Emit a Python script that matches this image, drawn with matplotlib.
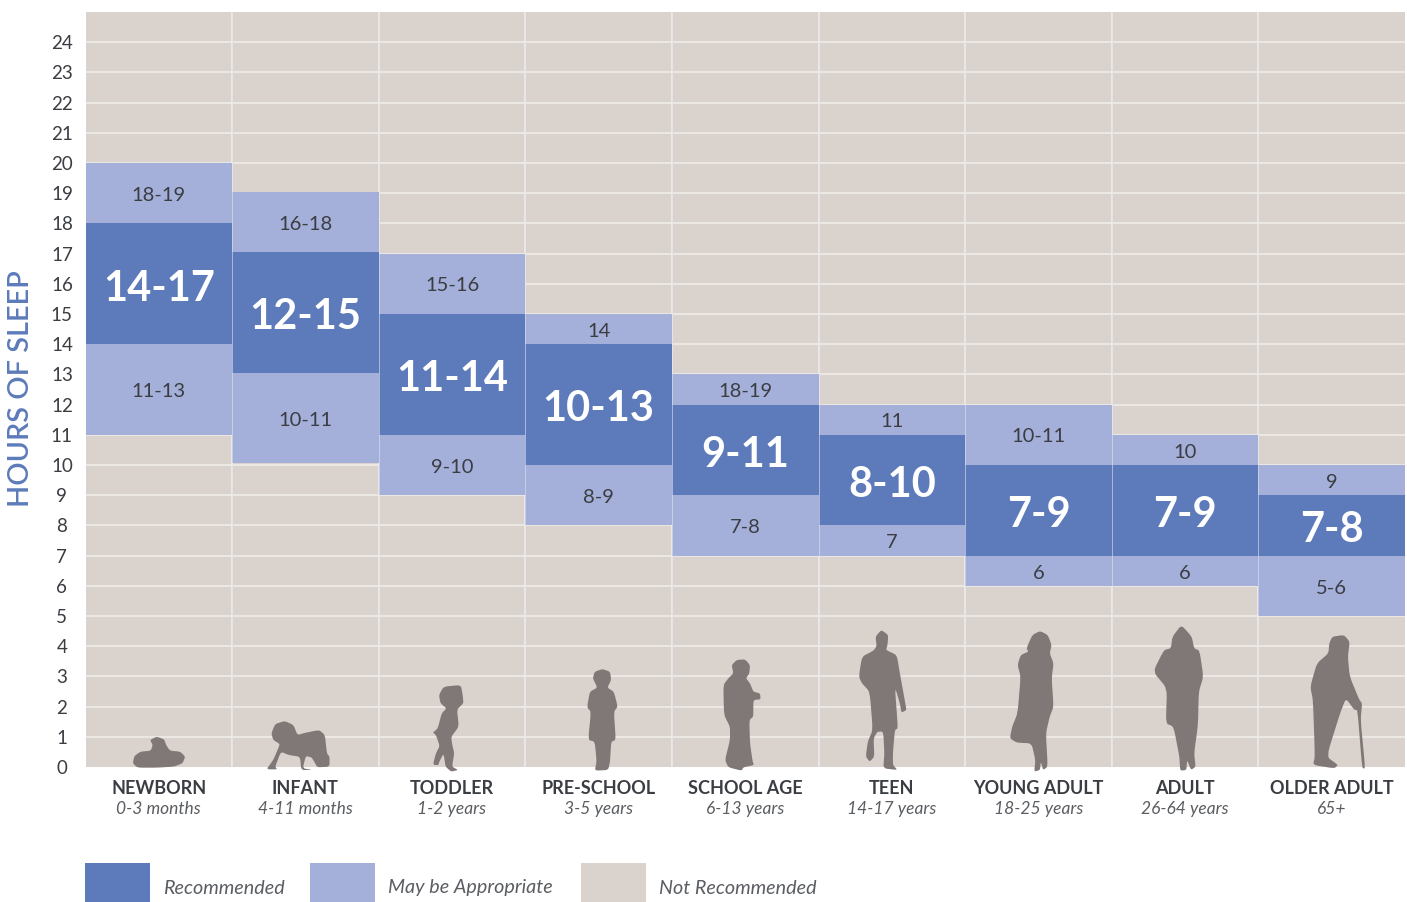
import matplotlib
matplotlib.use('Agg')
import matplotlib.pyplot as plt
import numpy as np
from matplotlib.patches import Rectangle, Polygon

plt.rcParams['font.family'] = ['Lato', 'DejaVu Sans']

# Dane
groups = ['NEWBORN', 'INFANT', 'TODDLER', 'PRE-SCHOOL', 'SCHOOL AGE', 'TEEN',
          'YOUNG ADULT', 'ADULT', 'OLDER ADULT']
ages = ['0-3 months', '4-11 months', '1-2 years', '3-5 years', '6-13 years',
        '14-17 years', '18-25 years', '26-64 years', '65+']
maybe_low = [11, 10.05, 9, 8, 7, 7, 6, 6, 5]
rec_low = [14, 13.05, 11, 10, 9, 8, 7, 7, 7]
rec_high = [18, 17.05, 15, 14, 12, 11, 10, 10, 9]
maybe_high = [20, 19.05, 17, 15, 13, 12, 12, 11, 10]
rec_labels = ['14-17', '12-15', '11-14', '10-13', '9-11', '8-10', '7-9', '7-9', '7-8']
upper_labels = ['18-19', '16-18', '15-16', '14', '18-19', '11', '10-11', '10', '9']
lower_labels = ['11-13', '10-11', '9-10', '8-9', '7-8', '7', '6', '6', '5-6']
hours = list(range(25))

DARK = '#5d7aba'
LIGHT = '#a5b0da'
BACK = '#d9d2cd'
TEXT = '#3a3d42'
SOFT = '#5a5d61'
FIG = '#807876'
W, H = 1407, 902

fig = plt.figure(figsize=(W / 100, H / 100), dpi=100)
ax = fig.add_axes([85.5 / W, 135 / H, 1319.5 / W, 755 / H])
ax.set_facecolor(BACK)
ax.set_xlim(0, 9)
ax.set_ylim(0, 25)
for s in ax.spines.values():
    s.set_visible(False)

ax.set_yticks(hours)
ax.set_yticklabels(hours, fontsize=13.5, color=TEXT, ha='center')
ax.set_xticks([])
ax.tick_params(axis='y', length=0, pad=17)
for h in hours[1:]:
    ax.axhline(h, color='#f1eeeb', lw=1.1, zorder=1)
for i in range(1, 9):
    ax.axvline(i, color='#f1eeeb', lw=1.1, zorder=1)

tr = ax.get_xaxis_transform()
for i in range(9):
    c = i + 0.5
    ax.bar(c, rec_high[i] - rec_low[i], 1, bottom=rec_low[i], color=DARK, zorder=2)
    ax.bar(c, maybe_high[i] - rec_high[i], 1, bottom=rec_high[i], color=LIGHT, zorder=2)
    ax.bar(c, rec_low[i] - maybe_low[i], 1, bottom=maybe_low[i], color=LIGHT, zorder=2)
    ax.text(c, (rec_low[i] + rec_high[i]) / 2 - 0.16, rec_labels[i], color='white',
            fontsize=30, fontweight='bold', ha='center', va='center', zorder=3)
    ax.text(c, (rec_high[i] + maybe_high[i]) / 2 - 0.07, upper_labels[i], color=TEXT,
            fontsize=14.5, ha='center', va='center', zorder=3)
    ax.text(c, (maybe_low[i] + rec_low[i]) / 2 - 0.08, lower_labels[i], color=TEXT,
            fontsize=14.5, ha='center', va='center', zorder=3)
    ax.text(c, -21.5 / 755, groups[i], transform=tr, color=TEXT, fontsize=13,
            fontweight='bold', ha='center', va='center')
    ax.text(c, -42 / 755, ages[i], transform=tr, color=SOFT, fontsize=12.5,
            style='italic', ha='center', va='center')
# cienka przerwa miedzy kolumnami
for i in range(1, 9):
    ax.axvline(i, color='#dfe3f0', lw=0.7, alpha=0.6, zorder=2.5)

fig.text(21 / W, 1 - 389 / H, 'HOURS OF SLEEP', color=DARK, fontsize=20.8, rotation=90,
         fontweight='semibold', ha='center', va='center')

# Legenda
for x0, col, name, tx in [(85, DARK, 'Recommended', 163), (310, LIGHT, 'May be Appropriate', 388),
                          (581, BACK, 'Not Recommended', 659)]:
    fig.add_artist(Rectangle((x0 / W, 0), 65 / W, 39 / H, transform=fig.transFigure,
                             color=col, lw=0))
    fig.text(tx / W, 1 - 888 / H, name, color=SOFT, fontsize=14.2, style='italic',
             ha='left', va='center')

# Sylwetki - obrys z powiekszonych wycinkow
left_crop = [
    [(138, 430), (142, 408), (158, 395), (185, 392), (190, 375), (183, 360), (200, 350), (220, 358),
     (225, 375), (235, 392), (262, 395), (275, 410), (268, 430), (245, 440), (200, 443), (150, 443)],
    [(500, 340), (510, 312), (535, 303), (558, 315), (568, 345), (590, 338), (625, 330), (640, 345),
     (645, 400), (652, 410), (652, 440), (620, 442), (612, 425), (605, 412), (590, 408), (582, 445),
     (608, 450), (578, 450), (575, 410), (545, 405), (525, 395), (510, 440), (515, 448), (487, 448),
     (505, 420), (518, 385), (522, 372), (505, 360)],
    [(938, 225), (950, 200), (995, 195), (1000, 225), (1002, 250), (985, 268), (990, 320), (970, 350),
     (972, 370), (978, 400), (972, 440), (988, 450), (970, 455), (955, 440), (950, 400), (935, 435),
     (945, 435), (922, 435), (930, 400), (940, 378), (930, 345), (922, 338), (935, 325), (945, 280),
     (958, 265), (942, 250)],
    [(1340, 175), (1345, 155), (1365, 147), (1385, 155), (1388, 180), (1378, 203), (1395, 215),
     (1405, 260), (1395, 275), (1400, 360), (1388, 365), (1385, 425), (1380, 450), (1345, 452),
     (1350, 425), (1345, 365), (1328, 360), (1335, 275), (1325, 262), (1332, 215), (1352, 203)],
]
school_crop = [(95, 45), (110, 30), (135, 28), (150, 45), (148, 70), (138, 85), (150, 100), (160, 125),
               (180, 130), (182, 148), (160, 150), (160, 200), (148, 210), (150, 280), (158, 335),
               (162, 345), (130, 352), (125, 362), (85, 352), (75, 330), (90, 270), (90, 230),
               (72, 195), (70, 105), (85, 85), (100, 70)]
right_crop = [
    [(195, 50), (210, 30), (228, 45), (226, 75), (222, 90), (250, 105), (258, 160), (272, 250),
     (275, 270), (262, 278), (258, 250), (245, 200), (253, 325), (245, 330), (240, 400), (240, 435),
     (252, 450), (215, 445), (218, 400), (215, 335), (200, 335), (190, 355), (192, 410), (180, 425),
     (170, 410), (175, 365), (188, 330), (180, 215), (160, 190), (152, 170), (160, 110), (190, 92),
     (198, 78)],
    [(585, 85), (600, 45), (620, 33), (640, 45), (650, 75), (645, 100), (655, 130), (650, 175),
     (655, 260), (645, 290), (635, 340), (640, 440), (628, 450), (622, 425), (620, 450), (605, 455),
     (608, 420), (598, 370), (560, 368), (542, 355), (548, 320), (562, 280), (570, 170), (562, 135),
     (570, 105), (590, 95)],
    [(962, 50), (985, 15), (1012, 50), (1018, 85), (1032, 92), (1042, 170), (1030, 215), (1028, 315),
     (1018, 400), (1022, 440), (1010, 450), (1000, 420), (998, 450), (982, 452), (980, 410),
     (965, 320), (945, 310), (948, 205), (912, 155), (940, 90), (958, 85)],
    [(1367, 70), (1375, 50), (1405, 45), (1420, 65), (1415, 110), (1420, 170), (1445, 240), (1452, 250),
     (1448, 300), (1460, 445), (1452, 445), (1440, 270), (1432, 270), (1410, 235), (1395, 280),
     (1360, 410), (1390, 435), (1380, 445), (1325, 435), (1330, 410), (1325, 240), (1318, 200),
     (1335, 130), (1365, 100)],
]


def smooth(pts, n=2):
    # zaokraglenie rogow obrysu
    p = np.array(pts, dtype=float)
    for _ in range(n):
        q = np.roll(p, -1, axis=0)
        p = np.column_stack([0.85 * p + 0.15 * q, 0.15 * p + 0.85 * q]).reshape(-1, 2)
    return p


def add_shape(pts, x0, y0, sx, sy=3):
    p = smooth(pts)
    xy = np.column_stack([(x0 + p[:, 0] / sx) / W, 1 - (y0 + p[:, 1] / sy) / H])
    fig.add_artist(Polygon(xy, closed=True, transform=fig.transFigure, color=FIG, lw=0))


for pts in left_crop:
    add_shape(pts, 80, 620, 2.613)
add_shape(school_crop, 700, 650, 3)
for pts in right_crop:
    add_shape(pts, 800, 620, 2.583)

fig.savefig('out.png', dpi=100)
